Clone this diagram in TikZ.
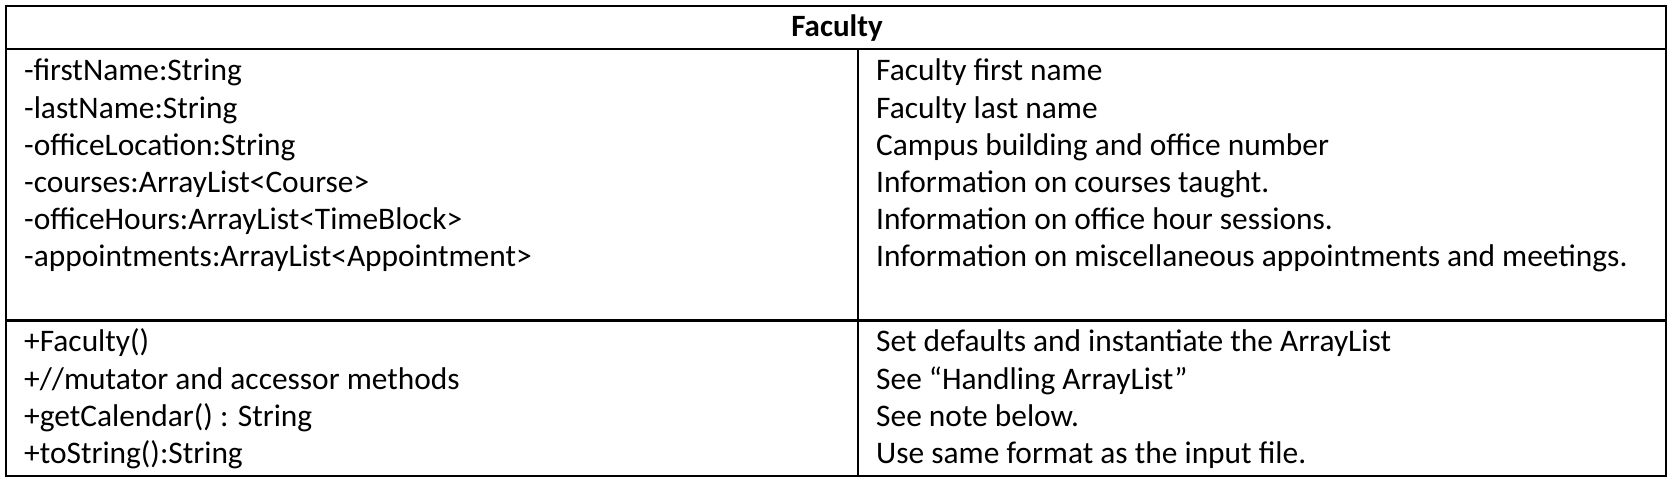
\documentclass[tikz,border=0pt]{standalone}
\usepackage{fontspec}
\setmainfont{Carlito}
\tikzset{
  txt/.style={anchor=base west, inner sep=0pt, font=\fontsize{31.4}{37}\selectfont},
  ttl/.style={anchor=base, inner sep=0pt, font=\fontsize{31}{37}\selectfont\bfseries},
  frame/.style={line width=2pt, draw=black},
}
\begin{document}
\begin{tikzpicture}[x=1pt,y=1pt]
\useasboundingbox (0,0) rectangle (1678,486);
% table frame
\draw[frame] (6,480) rectangle (1666,10);
\draw[frame] (6,436.5) -- (1666,436.5);
\draw[frame] (857.5,436.5) -- (857.5,10);
\draw[frame, line width=2.5pt] (6,165.5) -- (1666,165.5);
% title
\node[ttl] (title) at (837,449) {Faculty};
% attributes
\node[txt] (a1) at (24,405) {-firstName:String};
\node[txt] (a2) at (24,367.8) {-lastName:String};
\node[txt] (a3) at (24,330.6) {-officeLocation:String};
\node[txt] (a4) at (24,293.4) {-courses:ArrayList<Course>};
\node[txt] (a5) at (24,256.2) {-officeHours:ArrayList<TimeBlock>};
\node[txt] (a6) at (24,219) {-appointments:ArrayList<Appointment>};
\node[txt] (d1) at (876,405) {Faculty first name};
\node[txt] (d2) at (876,367.8) {Faculty last name};
\node[txt] (d3) at (876,330.6) {Campus building and office number};
\node[txt] (d4) at (876,293.4) {Information on courses taught.};
\node[txt] (d5) at (876,256.2) {Information on office hour sessions.};
\node[txt] (d6) at (876,219) {Information on miscellaneous appointments and meetings.};
% methods
\node[txt] (m1) at (24,134) {+Faculty()};
\node[txt] (m2) at (24,96.8) {+//mutator and accessor methods};
\node[txt] (m3) at (24,59.6) {+getCalendar() : String};
\node[txt] (m4) at (24,22.4) {+toString():String};
\node[txt] (n1) at (876,134) {Set defaults and instantiate the ArrayList};
\node[txt] (n2) at (876,96.8) {See “Handling ArrayList”};
\node[txt] (n3) at (876,59.6) {See note below.};
\node[txt] (n4) at (876,22.4) {Use same format as the input file.};
\end{tikzpicture}
\end{document}
